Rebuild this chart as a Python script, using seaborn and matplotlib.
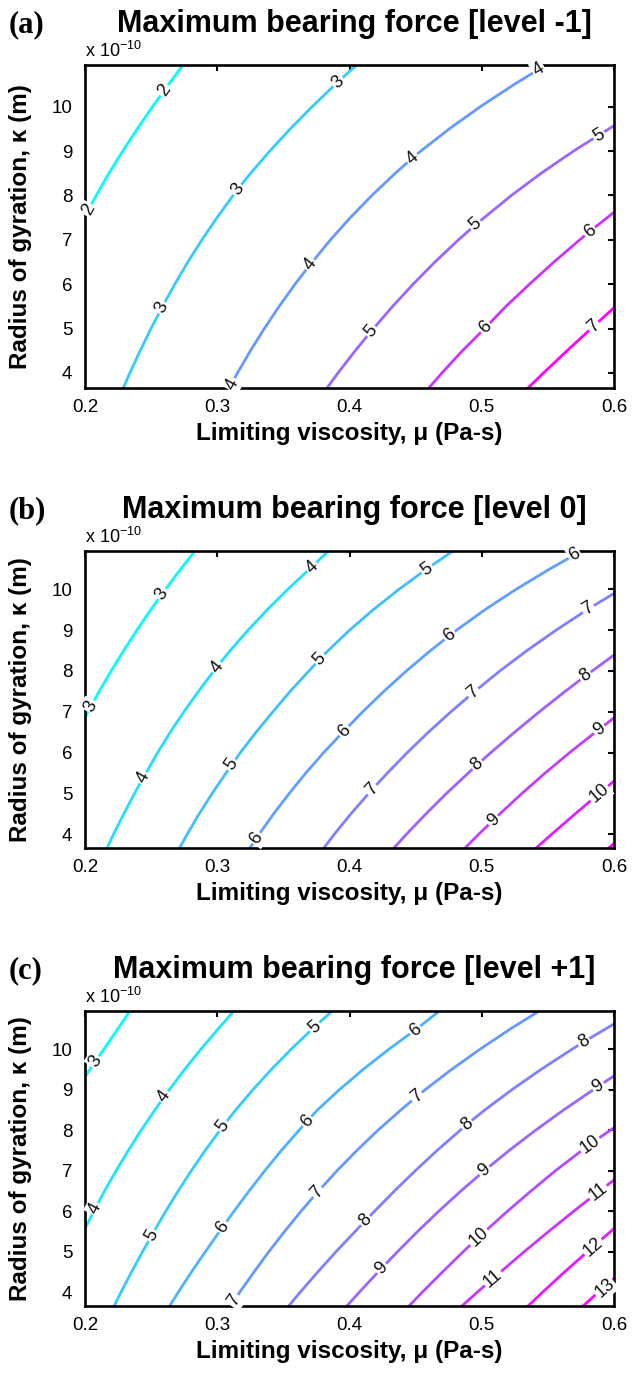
import numpy as np
import pandas as pd
import matplotlib
matplotlib.use("Agg")
import matplotlib.pyplot as plt
import seaborn as sns

# ---------------- data (kappa in units of 1e-10 m) ----------------
XLIM = (0.2, 0.6)
YLIM = (3.66, 10.94)
XTICKS = [0.2, 0.3, 0.4, 0.5, 0.6]
YTICKS = [4, 5, 6, 7, 8, 9, 10]

TITLES = ["Maximum bearing force [level -1]",
          "Maximum bearing force [level 0]",
          "Maximum bearing force [level +1]"]
PANEL_TAGS = ["(a)", "(b)", "(c)"]

# Panel (a): contour paths, level -> points
MU_A = {
    2: [0.200, 0.2085, 0.218, 0.2285, 0.2395, 0.251, 0.260, 0.274],
    3: [0.229, 0.2339, 0.2417, 0.2499, 0.2581, 0.2679, 0.2778, 0.2884, 0.2998, 0.3152, 0.3252, 0.3397, 0.3552, 0.3717, 0.3913, 0.4054],
    4: [0.309, 0.3153, 0.3251, 0.3356, 0.3468, 0.3588, 0.3702, 0.3856, 0.4006, 0.4169, 0.4346, 0.4475, 0.4539, 0.4754, 0.4989, 0.5244, 0.5486],
    5: [0.383, 0.3913, 0.4043, 0.4164, 0.4326, 0.4481, 0.4646, 0.4824, 0.4953, 0.5224, 0.5449, 0.5694, 0.5885, 0.600],
    6: [0.460, 0.4699, 0.4854, 0.5028, 0.5183, 0.5361, 0.5546, 0.5741, 0.5817, 0.600],
    7: [0.535, 0.5467, 0.5645, 0.5827, 0.600],
}
KAPPA_A = {
    2: [7.55, 8.0, 8.5, 9.0, 9.5, 10.0, 10.37, 10.94],
    3: [3.66, 4.0, 4.5, 5.0, 5.47, 6.0, 6.5, 7.0, 7.5, 8.13, 8.5, 9.0, 9.5, 10.0, 10.56, 10.94],
    4: [3.66, 4.0, 4.5, 5.0, 5.5, 6.0, 6.44, 7.0, 7.5, 8.0, 8.5, 8.84, 9.0, 9.5, 10.0, 10.5, 10.94],
    5: [3.66, 4.0, 4.5, 4.94, 5.5, 6.0, 6.5, 7.0, 7.34, 8.0, 8.5, 9.0, 9.36, 9.57],
    6: [3.66, 4.0, 4.5, 5.02, 5.5, 6.0, 6.5, 7.0, 7.19, 7.62],
    7: [3.66, 4.0, 4.5, 5.0, 5.47],
}
LABELS_A = [(2, 0.260, 10.37), (2, 0.2025, 7.68),
            (3, 0.3913, 10.56), (3, 0.3152, 8.13), (3, 0.2581, 5.47),
            (4, 0.5430, 10.83), (4, 0.4475, 8.84), (4, 0.3702, 6.44), (4, 0.3111, 3.75),
            (5, 0.5885, 9.36), (5, 0.4953, 7.34), (5, 0.4164, 4.94),
            (6, 0.5817, 7.19), (6, 0.5028, 5.02),
            (7, 0.5845, 5.06)]

# Panel (b)
MU_B = {
    3: [0.200, 0.2046, 0.2107, 0.2197, 0.2292, 0.2392, 0.2497, 0.2583, 0.2700, 0.2830],
    4: [0.2167, 0.2216, 0.2294, 0.2375, 0.2440, 0.2550, 0.2645, 0.2748, 0.2858, 0.2996, 0.3098, 0.3233, 0.3378, 0.3533, 0.3715, 0.3840],
    5: [0.2715, 0.2773, 0.2864, 0.2962, 0.3109, 0.3175, 0.3294, 0.3421, 0.3551, 0.3776, 0.3839, 0.4001, 0.4179, 0.4374, 0.4584, 0.4782],
    6: [0.3247, 0.3317, 0.3427, 0.3545, 0.3670, 0.3805, 0.3959, 0.4100, 0.4260, 0.4430, 0.4613, 0.4757, 0.4809, 0.5024, 0.5259, 0.5514, 0.5701, 0.5758],
    7: [0.3806, 0.3886, 0.4011, 0.4170, 0.4287, 0.4437, 0.4597, 0.4767, 0.4936, 0.5137, 0.5342, 0.5562, 0.5806, 0.600],
    8: [0.4336, 0.4431, 0.4579, 0.4734, 0.4965, 0.5069, 0.5249, 0.5436, 0.5631, 0.5785, 0.600],
    9: [0.4874, 0.4978, 0.5138, 0.5305, 0.5480, 0.5665, 0.5860, 0.600],
    10: [0.5411, 0.5530, 0.5708, 0.5889, 0.600],
    11: [0.596, 0.600],
}
KAPPA_B = {
    3: [6.86, 7.14, 7.5, 8.0, 8.5, 9.0, 9.5, 9.89, 10.4, 10.94],
    4: [3.66, 4.0, 4.5, 5.0, 5.38, 6.0, 6.5, 7.0, 7.5, 8.09, 8.5, 9.0, 9.5, 10.0, 10.55, 10.94],
    5: [3.66, 4.0, 4.5, 5.0, 5.70, 6.0, 6.5, 7.0, 7.5, 8.29, 8.5, 9.0, 9.5, 10.0, 10.5, 10.94],
    6: [3.66, 4.0, 4.5, 5.0, 5.5, 6.0, 6.53, 7.0, 7.5, 8.0, 8.5, 8.87, 9.0, 9.5, 10.0, 10.5, 10.84, 10.94],
    7: [3.66, 4.0, 4.5, 5.09, 5.5, 6.0, 6.5, 7.0, 7.47, 8.0, 8.5, 9.0, 9.52, 9.90],
    8: [3.66, 4.0, 4.5, 5.0, 5.70, 6.0, 6.5, 7.0, 7.5, 7.88, 8.39],
    9: [3.66, 4.0, 4.5, 5.0, 5.5, 6.0, 6.5, 6.85],
    10: [3.66, 4.0, 4.5, 5.0, 5.30],
    11: [3.66, 3.77],
}
LABELS_B = [(3, 0.2583, 9.89), (3, 0.2046, 7.14),
            (4, 0.3715, 10.55), (4, 0.2996, 8.09), (4, 0.2440, 5.38),
            (5, 0.4584, 10.50), (5, 0.3776, 8.29), (5, 0.3109, 5.70),
            (6, 0.5701, 10.84), (6, 0.4757, 8.87), (6, 0.3959, 6.53), (6, 0.3296, 3.90),
            (7, 0.5806, 9.52), (7, 0.4936, 7.47), (7, 0.4170, 5.09),
            (8, 0.5785, 7.88), (8, 0.4965, 5.70),
            (9, 0.5887, 6.57), (9, 0.5087, 4.34),
            (10, 0.5889, 5.00)]

# Panel (c)
MU_C = {
    3: [0.200, 0.2078, 0.2143, 0.2248, 0.2340],
    4: [0.200, 0.2076, 0.2148, 0.2235, 0.2328, 0.2425, 0.2529, 0.2600, 0.2638, 0.2754, 0.2877, 0.3007, 0.3126],
    5: [0.222, 0.2272, 0.2352, 0.2435, 0.2504, 0.2611, 0.2705, 0.2804, 0.2909, 0.3044, 0.3140, 0.3270, 0.3410, 0.3560, 0.3736, 0.3869],
    6: [0.264, 0.2705, 0.2805, 0.2910, 0.3041, 0.3127, 0.3241, 0.3360, 0.3485, 0.3678, 0.3759, 0.3924, 0.4104, 0.4299, 0.4496, 0.4680],
    7: [0.310, 0.3170, 0.3278, 0.3390, 0.3509, 0.3634, 0.3758, 0.3906, 0.4056, 0.4216, 0.4389, 0.4509, 0.4573, 0.4773, 0.4988, 0.5218, 0.5434],
    8: [0.354, 0.3627, 0.3760, 0.3898, 0.4121, 0.4190, 0.4340, 0.4498, 0.4663, 0.4887, 0.5024, 0.5229, 0.5449, 0.5684, 0.5772, 0.600],
    9: [0.398, 0.4074, 0.4242, 0.4363, 0.4515, 0.4675, 0.4843, 0.5020, 0.5208, 0.5408, 0.5620, 0.5881, 0.600],
    10: [0.445, 0.4550, 0.4703, 0.4860, 0.4977, 0.5195, 0.5373, 0.5558, 0.5818, 0.600],
    11: [0.485, 0.4966, 0.5085, 0.5321, 0.5506, 0.5696, 0.5879, 0.600],
    12: [0.535, 0.5460, 0.5626, 0.5799, 0.5841, 0.600],
    13: [0.5766, 0.5882, 0.600],
}
KAPPA_C = {
    3: [9.32, 9.69, 10.0, 10.5, 10.94],
    4: [5.57, 6.06, 6.5, 7.0, 7.5, 8.0, 8.5, 8.83, 9.0, 9.5, 10.0, 10.5, 10.94],
    5: [3.66, 4.0, 4.5, 5.0, 5.40, 6.0, 6.5, 7.0, 7.5, 8.10, 8.5, 9.0, 9.5, 10.0, 10.55, 10.94],
    6: [3.66, 4.0, 4.5, 5.0, 5.61, 6.0, 6.5, 7.0, 7.5, 8.22, 8.5, 9.0, 9.5, 10.0, 10.47, 10.94],
    7: [3.66, 4.0, 4.5, 5.0, 5.5, 6.0, 6.47, 7.0, 7.5, 8.0, 8.5, 8.83, 9.0, 9.5, 10.0, 10.5, 10.94],
    8: [3.66, 4.0, 4.5, 5.0, 5.77, 6.0, 6.5, 7.0, 7.5, 8.14, 8.5, 9.0, 9.5, 10.0, 10.18, 10.62],
    9: [3.66, 4.0, 4.59, 5.0, 5.5, 6.0, 6.5, 7.0, 7.5, 8.0, 8.5, 9.08, 9.34],
    10: [3.66, 4.0, 4.5, 5.0, 5.36, 6.0, 6.5, 7.0, 7.65, 8.06],
    11: [3.66, 4.0, 4.34, 5.0, 5.5, 6.0, 6.47, 6.77],
    12: [3.66, 4.0, 4.5, 5.0, 5.12, 5.57],
    13: [3.66, 4.0, 4.34],
}
LABELS_C = [(3, 0.2078, 9.69),
            (4, 0.2600, 8.83), (4, 0.2076, 6.06),
            (5, 0.3736, 10.55), (5, 0.3044, 8.10), (5, 0.2504, 5.40),
            (6, 0.4496, 10.47), (6, 0.3678, 8.22), (6, 0.3041, 5.61),
            (7, 0.4509, 8.83), (7, 0.3758, 6.47), (7, 0.3130, 3.80),
            (8, 0.5772, 10.18), (8, 0.4887, 8.14), (8, 0.4121, 5.77),
            (9, 0.5881, 9.08), (9, 0.5020, 7.00), (9, 0.4242, 4.59),
            (10, 0.5818, 7.65), (10, 0.4977, 5.36),
            (11, 0.5879, 6.47), (11, 0.5085, 4.34),
            (12, 0.5841, 5.12),
            (13, 0.5930, 4.10)]

PANELS = [(MU_A, KAPPA_A, LABELS_A), (MU_B, KAPPA_B, LABELS_B), (MU_C, KAPPA_C, LABELS_C)]

# ---------------- style ----------------
sns.set_theme(style="white")
plt.rcParams["font.family"] = ["Liberation Sans", "DejaVu Sans"]
plt.rcParams["mathtext.default"] = "regular"
for key in ["text.color", "axes.labelcolor", "xtick.color", "ytick.color"]:
    plt.rcParams[key] = "black"

W, H = 632, 1374
fig = plt.figure(figsize=(W / 100, H / 100), dpi=100)
fig.patch.set_facecolor("white")

# axes boxes in pixels: (left, top, right, bottom)
BOXES = [(85, 65, 614, 388), (85, 551, 614, 848), (85, 1011, 614, 1306)]

cool = plt.get_cmap("cool")

for i, ((mus, kaps, labels), box) in enumerate(zip(PANELS, BOXES)):
    l, t, r, b = box
    ax = fig.add_axes([l / W, 1 - b / H, (r - l) / W, (b - t) / H])
    levels = sorted(mus.keys())
    lmin, lmax = levels[0], levels[-1]
    pal = {lv: cool((lv - lmin) / (lmax - lmin)) for lv in levels}

    rows = []
    for lv in levels:
        for m, k in zip(mus[lv], kaps[lv]):
            rows.append({"mu": m, "kappa": k, "level": lv})
    df = pd.DataFrame(rows)
    sns.lineplot(data=df, x="mu", y="kappa", hue="level", palette=pal,
                 estimator=None, sort=False, legend=False, lw=2.0, ax=ax)

    ax.set_xlim(*XLIM)
    ax.set_ylim(*YLIM)
    ax.set_xticks(XTICKS)
    ax.set_xticklabels([f"{v:g}" for v in XTICKS])
    ax.set_yticks(YTICKS)
    ax.set_yticklabels([str(v) for v in YTICKS])
    ax.tick_params(direction="in", length=4, width=1.5, top=True, right=True,
                   labelsize=13.5, colors="black")
    ax.tick_params(axis="x", pad=8)
    ax.tick_params(axis="y", pad=9)
    for s in ax.spines.values():
        s.set_visible(True)
        s.set_linewidth(1.9)
        s.set_color("black")
    ax.set_facecolor("white")
    ax.set_xlabel("Limiting viscosity, \u03bc (Pa-s)", fontsize=17.5, fontweight="bold",
                  labelpad=4, color="black")
    ax.set_ylabel("Radius of gyration, \u03ba (m)", fontsize=17.5, fontweight="bold", color="black")
    ax.yaxis.set_label_coords(-(85 - 32) / (r - l), 0.5)

    # contour labels, rotated along the curve
    for lv, m0, k0 in labels:
        kk = np.array(kaps[lv]); mm = np.array(mus[lv])
        k1 = max(k0 - 0.25, kk.min()); k2 = min(k0 + 0.25, kk.max())
        p1 = ax.transData.transform((np.interp(k1, kk, mm), k1))
        p2 = ax.transData.transform((np.interp(k2, kk, mm), k2))
        ang = np.degrees(np.arctan2(p2[1] - p1[1], p2[0] - p1[0]))
        if ang > 90:
            ang -= 180
        ax.text(m0, k0, str(lv), rotation=ang, rotation_mode="anchor",
                ha="center", va="center", fontsize=13, color="#111111",
                bbox=dict(boxstyle="square,pad=0.08", fc="white", ec="none"),
                zorder=5, clip_on=False)

    # offset text and titles
    fig.text(l / W, 1 - (t - 8) / H, r"x 10$^{-10}$", fontsize=13, ha="left", va="baseline",
             color="black")
    fig.text((l + r) / 2 / W + 0.008, 1 - (t - 33) / H, TITLES[i], fontsize=22, fontweight="bold",
             ha="center", va="baseline", color="black")
    fig.text(9 / W, 1 - (t - 33) / H, PANEL_TAGS[i], fontsize=22, fontweight="bold",
             ha="left", va="baseline", family=["Liberation Serif", "DejaVu Serif"], color="black")

fig.savefig("out.png", dpi=100, facecolor="white")
